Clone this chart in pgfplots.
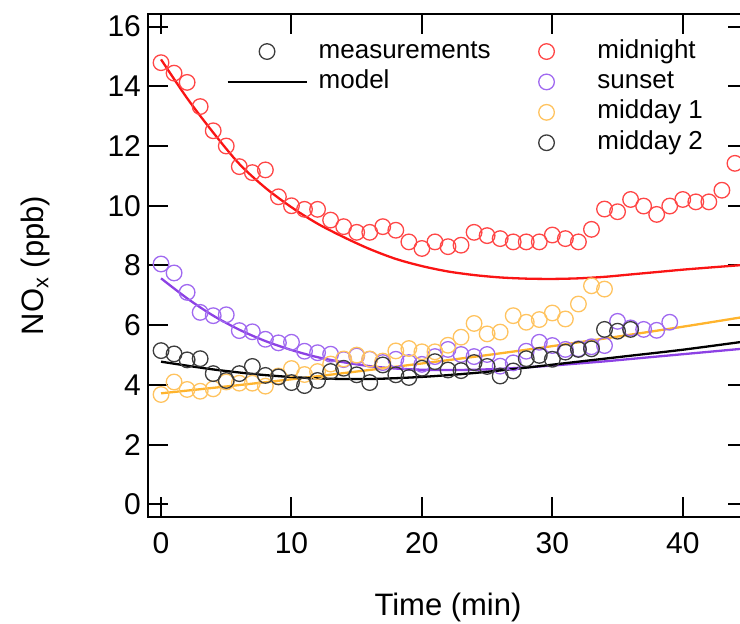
\documentclass[border=0pt]{standalone}
\usepackage{pgfplots}
\pgfplotsset{compat=1.18}
\usepackage{fontspec}
\setmainfont{Liberation Sans}
\definecolor{redline}{RGB}{250,20,20}
\definecolor{redmark}{RGB}{255,70,70}
\definecolor{purpline}{RGB}{140,65,228}
\definecolor{purpmark}{RGB}{160,105,240}
\definecolor{orgline}{RGB}{255,180,45}
\definecolor{orgmark}{RGB}{255,195,95}
\definecolor{blkmark}{RGB}{60,60,60}
\pgfplotsset{
  meas/.style={only marks, mark=o, mark size=3.9pt, mark options={line width=0.65pt}},
  modl/.style={no marks, smooth, line width=1.15pt},
}
\begin{document}
\begin{tikzpicture}
\path[use as bounding box] (-74pt,-53.5pt) rectangle (296pt,258.5pt);
\begin{axis}[
  scale only axis, width=300pt, height=251.5pt,
  xmin=-1, xmax=45, ymin=-0.42, ymax=16.42,
  xtick={0,10,20,30,40}, ytick={0,2,4,6,8,10,12,14,16},
  minor tick num=0,
  tick align=inside, major tick length=10pt,
  every tick/.style={black, line width=1pt},
  axis line style={line width=1pt},
  /pgf/number format/assume math mode=true,
  ticklabel style={font=\fontsize{15}{18}\selectfont},
  xticklabel style={yshift=-4pt},
  label style={font=\fontsize{15.5}{18}\selectfont},
  xlabel={Time (min)},
  ylabel={NO\textsubscript{x} (ppb)},
  xlabel style={at={(axis description cs:0.5,0)}, anchor=base, yshift=-49.5pt},
  ylabel style={at={(axis description cs:-0.1867,0.5)}, anchor=center},
  legend columns=2,
  legend cell align=left,
  legend style={draw=none, fill=none, inner sep=0pt, at={(0.13,0.950)}, anchor=north west,
    font=\fontsize{13}{15}\selectfont,
    nodes={inner ysep=0pt, inner xsep=5.5pt, text height=9.3pt, text depth=2.7pt},
    row sep=3.2pt, column sep=0pt,
    /tikz/every even column/.append style={column sep=2.5pt}},
  legend image code/.code={\path (0pt,0pt) (39.5pt,0pt); \draw[mark repeat=2,mark phase=2,#1] plot coordinates {(0pt,0pt)(19.75pt,0pt)(39.5pt,0pt)};},
]
\addlegendimage{meas, blkmark}
\addlegendentry{measurements}
\addlegendimage{meas, redmark}
\addlegendentry{midnight}
\addlegendimage{black, line width=1.15pt}
\addlegendentry{model}
\addlegendimage{meas, purpmark}
\addlegendentry{sunset}
\addlegendimage{empty legend}
\addlegendentry{}
\addlegendimage{meas, orgmark}
\addlegendentry{midday 1}
\addlegendimage{empty legend}
\addlegendentry{}
\addlegendimage{meas, blkmark}
\addlegendentry{midday 2}

% midnight
\addplot[forget plot, meas, redmark] coordinates {
(0,14.79)(1,14.44)(2,14.13)(3,13.32)(4,12.51)(5,12.0)(6,11.31)(7,11.11)(8,11.2)(9,10.3)
(10,10.0)(11,9.88)(12,9.88)(13,9.52)(14,9.3)(15,9.11)(16,9.11)(17,9.3)(18,9.18)(19,8.79)
(20,8.57)(21,8.79)(22,8.63)(23,8.68)(24,9.11)(25,9.0)(26,8.9)(27,8.79)(28,8.79)(29,8.79)
(30,9.02)(31,8.9)(32,8.79)(33,9.21)(34,9.89)(35,9.8)(36,10.21)(37,9.99)(38,9.71)(39,9.99)
(40,10.21)(41,10.13)(42,10.13)(43,10.52)(44,11.42)};
\addplot[forget plot, modl, redline] coordinates {
(0,14.9)(2,13.6)(4,12.45)(6,11.4)(8,10.6)(10,9.95)(12,9.4)(14,8.95)(16,8.55)(18,8.22)
(20,7.98)(22,7.8)(24,7.68)(26,7.6)(28,7.56)(30,7.55)(32,7.57)(34,7.62)(36,7.7)(38,7.78)
(40,7.86)(42,7.93)(45,8.03)};

% sunset
\addplot[forget plot, meas, purpmark] coordinates {
(0,8.05)(1,7.75)(2,7.1)(3,6.43)(4,6.32)(5,6.35)(6,5.82)(7,5.78)(8,5.53)(9,5.41)
(10,5.43)(11,5.13)(12,5.08)(13,5.03)(14,4.85)(15,4.97)(16,4.86)(17,4.75)(18,4.86)(19,4.75)
(20,4.69)(21,4.95)(22,5.19)(23,5.02)(24,4.95)(25,5.02)(26,4.63)(27,4.74)(28,5.13)(29,5.43)
(30,5.32)(31,5.19)(32,5.21)(33,5.28)(34,5.32)(35,6.13)(36,5.91)(37,5.86)(38,5.83)(39,6.1)};
\addplot[forget plot, modl, purpline] coordinates {
(0,7.57)(2,6.9)(4,6.32)(6,5.85)(8,5.47)(10,5.17)(12,4.93)(14,4.76)(16,4.63)(18,4.55)
(20,4.51)(22,4.5)(24,4.51)(26,4.54)(28,4.59)(30,4.65)(32,4.72)(34,4.79)(36,4.87)(38,4.95)
(40,5.03)(42,5.11)(45,5.23)};

% midday 1
\addplot[forget plot, meas, orgmark] coordinates {
(0,3.68)(1,4.1)(2,3.85)(3,3.79)(4,3.87)(5,4.1)(6,4.06)(7,4.06)(8,3.96)(9,4.3)
(10,4.55)(11,4.35)(12,4.45)(13,4.7)(14,4.87)(15,5.0)(16,4.87)(17,4.8)(18,5.14)(19,5.22)
(20,5.11)(21,5.11)(22,5.33)(23,5.6)(24,6.06)(25,5.71)(26,5.77)(27,6.32)(28,6.1)(29,6.19)
(30,6.41)(31,6.21)(32,6.71)(33,7.32)(34,7.21)};
\addplot[forget plot, modl, orgline] coordinates {
(0,3.72)(5,3.95)(10,4.19)(15,4.45)(20,4.72)(25,5.0)(30,5.3)(35,5.62)(40,5.95)(45,6.3)};

% midday 2
\addplot[forget plot, meas, blkmark] coordinates {
(0,5.15)(1,5.04)(2,4.84)(3,4.88)(4,4.38)(5,4.15)(6,4.38)(7,4.62)(8,4.32)(9,4.27)
(10,4.08)(11,3.98)(12,4.15)(13,4.45)(14,4.56)(15,4.34)(16,4.08)(17,4.67)(18,4.34)(19,4.25)
(20,4.56)(21,4.78)(22,4.5)(23,4.48)(24,4.75)(25,4.62)(26,4.3)(27,4.47)(28,4.88)(29,4.99)
(30,4.86)(31,5.1)(32,5.19)(33,5.21)(34,5.86)(35,5.8)(36,5.86)};
\addplot[forget plot, modl, black] coordinates {
(0,4.78)(4,4.52)(8,4.33)(12,4.22)(16,4.2)(20,4.27)(24,4.4)(28,4.58)(32,4.78)(36,4.98)
(40,5.18)(45,5.47)};
\end{axis}
\end{tikzpicture}
\end{document}
